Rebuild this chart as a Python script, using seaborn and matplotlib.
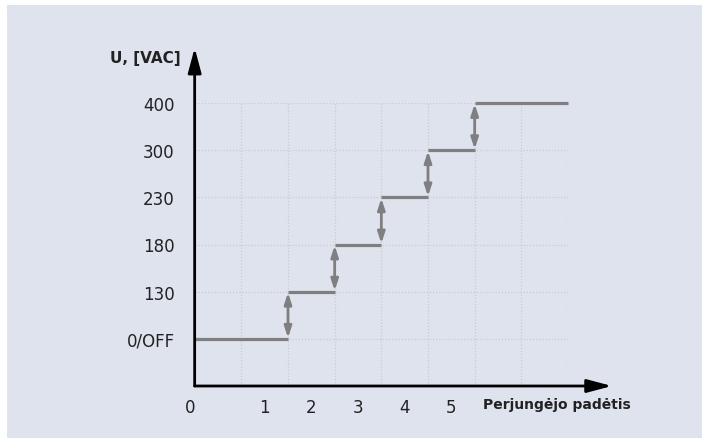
import matplotlib.pyplot as plt
import matplotlib.patches as mpatches
import seaborn as sns
import numpy as np
import pandas as pd

# data
voltage_labels = ['0/OFF', '130', '180', '230', '300', '400']
voltage_levels = [1, 2, 3, 4, 5, 6]
position_labels = ['0', '1', '2', '3', '4', '5']
position_ticks = [-0.1, 1.5, 2.5, 3.5, 4.5, 5.5]
step_edges = [0, 2, 3, 4, 5, 6, 8]

bg = '#dfe3ee'
gray = '#7f7f7f'
txt = '#222222'

sns.set_style('white')
plt.rcParams['font.family'] = ['DejaVu Sans']

fig = plt.figure(figsize=(7.02, 4.39), dpi=100, facecolor='white')
fig.patches.append(mpatches.Rectangle((7 / 702, 0), 1, 1 - 6 / 439,
                                      transform=fig.transFigure,
                                      facecolor=bg, edgecolor='none', zorder=-10))
ax = fig.add_axes([190 / 702, 52 / 439, 378 / 702, 283 / 439])
ax.set_zorder(5)
ax.set_facecolor('none')
ax.set_xlim(0, 8)
ax.set_ylim(0, 6)
for s in ax.spines.values():
    s.set_visible(False)

# dotted grid
grid_kw = dict(color='#c9ccd4', lw=0.9, linestyles=(0, (1, 1.5)), zorder=1)
ax.hlines(voltage_levels, 0, 8, **grid_kw)
ax.vlines(np.arange(1, 9), 0, 6, **grid_kw)

# horizontal step segments
rows = []
for i, lvl in enumerate(voltage_levels):
    rows.append({'seg': i, 'x': step_edges[i], 'y': lvl})
    rows.append({'seg': i, 'x': step_edges[i + 1], 'y': lvl})
df = pd.DataFrame(rows)
sns.lineplot(data=df, x='x', y='y', units='seg', estimator=None,
             color=gray, lw=2.3, ax=ax, zorder=3, legend=False)
for ln in ax.lines:
    ln.set_clip_on(False)
    ln.set_solid_capstyle('butt')

# double-headed arrows on the steps
for i in range(1, len(voltage_levels)):
    xs = step_edges[i]
    ax.annotate('', xy=(xs, voltage_levels[i] - 0.02), xytext=(xs, voltage_levels[i - 1] + 0.02),
                arrowprops=dict(arrowstyle='<|-|>,head_length=0.55,head_width=0.18',
                                mutation_scale=12, lw=2.0, color=gray,
                                shrinkA=0, shrinkB=0), zorder=4)

# axes with arrowheads
ax.annotate('', xy=(8.94, 0), xytext=(0, 0), annotation_clip=False,
            arrowprops=dict(arrowstyle='-|>,head_length=0.75,head_width=0.2',
                            mutation_scale=20, lw=2, color='black',
                            shrinkA=0, shrinkB=0), zorder=5)
ax.annotate('', xy=(0, 7.17), xytext=(0, 0), annotation_clip=False,
            arrowprops=dict(arrowstyle='-|>,head_length=0.75,head_width=0.2',
                            mutation_scale=20, lw=2, color='black',
                            shrinkA=0, shrinkB=0), zorder=5)

ax.set_yticks(voltage_levels, voltage_labels)
ax.set_xticks(position_ticks, position_labels)
ax.tick_params(axis='both', length=0, labelsize=12, labelcolor=txt)
ax.tick_params(axis='y', pad=11)
ax.tick_params(axis='x', pad=9)
ax.set_xlabel('')
ax.set_ylabel('')

ax.text(-0.3, 6.97, 'U, [VAC]', ha='right', va='center', fontsize=11,
        fontweight='bold', color=txt, clip_on=False)
ax.text(7.77, -0.38, 'Perjungėjo padėtis', ha='center', va='center', fontsize=10,
        fontweight='bold', color=txt, clip_on=False)

fig.savefig('out.png', dpi=100, facecolor='white')
